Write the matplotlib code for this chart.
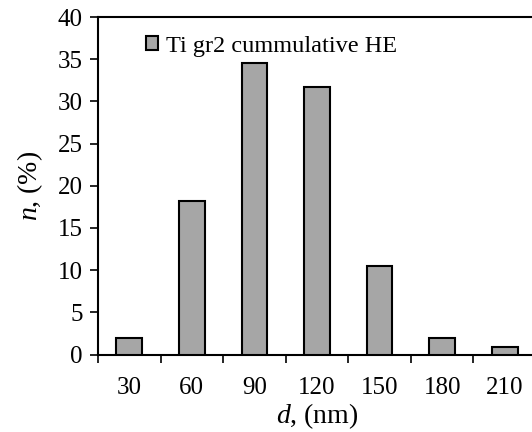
import matplotlib
matplotlib.use('Agg')
import matplotlib.pyplot as plt
import numpy as np

plt.rcParams['font.family'] = ['Liberation Serif', 'DejaVu Serif']
plt.rcParams['mathtext.fontset'] = 'custom'
plt.rcParams['mathtext.it'] = 'Liberation Serif:italic'
plt.rcParams['mathtext.rm'] = 'Liberation Serif'

# size classes (nm) and share (%)
sizes = ['30', '60', '90', '120', '150', '180', '210']
shares = [2.0, 18.2, 34.5, 31.7, 10.5, 2.0, 0.9]
series_name = 'Ti gr2 cummulative HE'

fig = plt.figure(figsize=(5.32, 4.32), dpi=100)
ax = fig.add_axes([98 / 532, 1 - 354.5 / 432, 438 / 532, 337.5 / 432])

x = np.arange(len(sizes))
ax.bar(x, shares, width=0.41, color='#a6a6a6', edgecolor='black',
       linewidth=1.5, label=series_name, zorder=3)

ax.set_xlim(-0.5, len(sizes) - 0.5)
ax.set_ylim(0, 40)
ax.set_yticks(np.arange(0, 41, 5))
ax.set_xticks(x)
ax.set_xticklabels(sizes)
ax.set_xticks(np.arange(-0.5, len(sizes), 1), minor=True)
ax.tick_params(axis='x', which='major', length=0, labelsize=18, pad=16)
ax.tick_params(axis='x', which='minor', length=6, width=1.2, direction='out')
ax.tick_params(axis='y', length=6, width=1.2, direction='out', labelsize=18, pad=5)

ax.spines['right'].set_visible(False)
for s in ['left', 'top', 'bottom']:
    ax.spines[s].set_linewidth(1.5)

ax.set_xlabel('$d$, (nm)', fontsize=20, labelpad=1.5)
ax.set_ylabel('$n$, (%)', fontsize=20, labelpad=9)

ax.legend(loc='upper left', bbox_to_anchor=(0.07, 0.995), frameon=False,
          fontsize=17.5, handlelength=0.5, handleheight=0.55, handletextpad=0.35,
          borderaxespad=0.3)

fig.savefig('out.png', dpi=100)
